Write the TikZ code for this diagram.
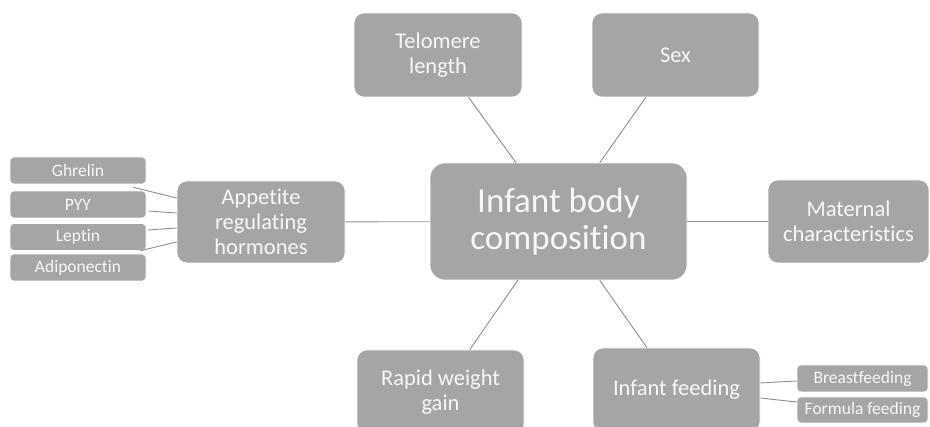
\documentclass[tikz,border=0pt]{standalone}
\usepackage{fontspec}
\setmainfont[Ligatures=NoCommon]{Carlito}
\definecolor{boxfill}{HTML}{A5A5A5}
\definecolor{boxtext}{HTML}{F7F7F7}
\definecolor{linkcol}{HTML}{8F8F8F}
\tikzset{
  box/.style={fill=boxfill, draw=white, line width=0.6pt, text=boxtext, align=center, inner sep=0pt},
  bigbox/.style={box, rounded corners=15pt, minimum width=257pt, minimum height=117pt, font=\fontsize{35}{37}\selectfont},
  midbox/.style={box, rounded corners=10pt, minimum width=167pt, minimum height=84pt, font=\fontsize{22.5}{25}\selectfont},
  smallbox/.style={box, rounded corners=4pt, minimum width=136pt, minimum height=27pt, font=\fontsize{17.5}{19}\selectfont},
  link/.style={draw=linkcol, line width=0.9pt}
}
\begin{document}
\begin{tikzpicture}[x=1pt, y=-1pt]
\useasboundingbox (0,0) rectangle (930,427);
\clip (0,0) rectangle (930,427);
\fill[white] (0,0) rectangle (930,427);
% central and main nodes
\node[bigbox] (ctr) at (558.5,221.5) {Infant body\\composition};
\node[midbox, minimum width=168pt] (tel) at (438,55) {Telomere\\length};
\node[midbox] (sex) at (675.5,55) {Sex};
\node[midbox, minimum width=161pt, minimum height=83pt] (mat) at (848.5,221.5) {Maternal\\characteristics};
\node[midbox, minimum width=168pt, minimum height=82pt] (app) at (261,222) {Appetite\\regulating\\hormones};
\node[midbox] (rwg) at (440.5,392) {Rapid weight\\gain};
\node[midbox] (inf) at (676.5,390) {Infant feeding};
% small nodes left
\node[smallbox] (gh) at (78,170.5) {Ghrelin};
\node[smallbox] (pyy) at (78,204.5) {PYY};
\node[smallbox] (lep) at (78,237) {Leptin};
\node[smallbox] (adi) at (78,267.5) {Adiponectin};
% small nodes right
\node[smallbox, minimum width=131pt] (bf) at (862.5,378.5) {Breastfeeding};
\node[smallbox, minimum width=131pt, minimum height=26pt] (ff) at (862.5,410) {Formula feeding};
% links from centre
\draw[link] (ctr) -- (tel);
\draw[link] (ctr) -- (sex);
\draw[link] (ctr) -- (mat);
\draw[link] (ctr) -- (app);
\draw[link] (ctr) -- (rwg);
\draw[link] (ctr) -- (inf);
% links left
\draw[link] ([yshift=24pt]app.west) -- ([xshift=-13pt,yshift=-3pt]gh.south east);
\draw[link] ([yshift=9pt]app.west) -- ([xshift=2pt,yshift=-6.5pt]pyy.east);
\draw[link] ([yshift=-6pt]app.west) -- ([xshift=2pt,yshift=7pt]lep.east);
\draw[link] ([yshift=-20pt]app.west) -- ([xshift=-6pt,yshift=3pt]adi.north east);
% links right
\draw[link] ([yshift=7pt]inf.east) -- ([yshift=-2.5pt]bf.west);
\draw[link] ([yshift=-8pt]inf.east) -- ([yshift=8pt]ff.west);
\end{tikzpicture}
\end{document}
